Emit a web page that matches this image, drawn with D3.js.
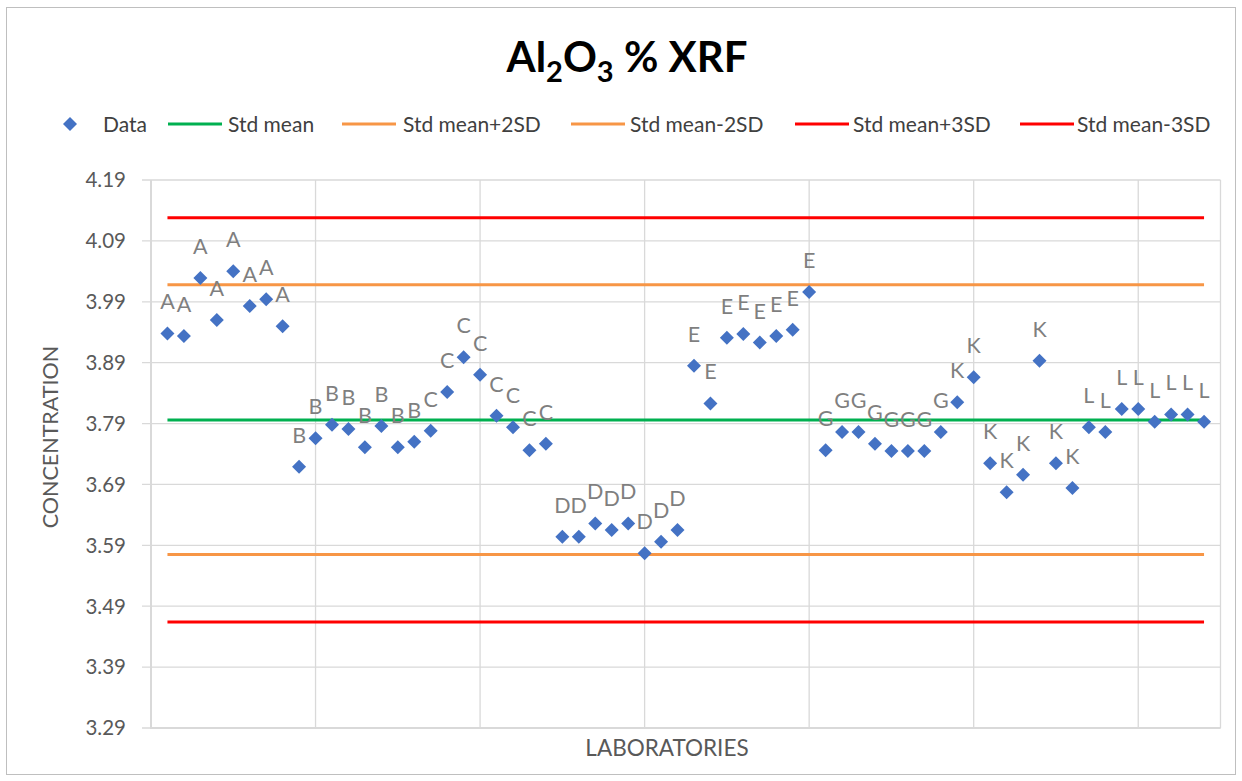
<!DOCTYPE html>
<html><head><meta charset="utf-8">
<script src="https://cdn.jsdelivr.net/npm/d3@7"></script>
<style>body{margin:0;background:#fff}svg{display:block}text{font-family:Lato,"Open Sans",sans-serif}</style>
</head><body><svg id="c" width="1242" height="781"></svg>
<script>
const labs = ["A","A","A","A","A","A","A","A","B","B","B","B","B","B","B","B","C","C","C","C","C","C","C","C","D","D","D","D","D","D","D","D","E","E","E","E","E","E","E","E","G","G","G","G","G","G","G","G","K","K","K","K","K","K","K","K","L","L","L","L","L","L","L","L"];
const values = [3.938,3.934,4.029,3.960,4.040,3.983,3.994,3.950,
 3.719,3.766,3.788,3.781,3.751,3.786,3.751,3.760,
 3.778,3.842,3.899,3.870,3.803,3.784,3.746,3.757,
 3.604,3.604,3.626,3.615,3.626,3.577,3.596,3.615,
 3.885,3.823,3.931,3.937,3.923,3.934,3.944,4.006,
 3.746,3.776,3.776,3.757,3.745,3.745,3.745,3.776,
 3.825,3.866,3.725,3.677,3.706,3.893,3.725,3.684,
 3.784,3.776,3.814,3.814,3.793,3.805,3.805,3.793];
const stdMean = 3.796, plus2SD = 4.018, minus2SD = 3.575, plus3SD = 4.128, minus3SD = 3.464;
const yTicks = [3.29,3.39,3.49,3.59,3.69,3.79,3.89,3.99,4.09,4.19];
const xGrid = [10,20,30,40,50,60,65];
const refLines = [
  {name:"Std mean", v:stdMean, color:"#00b050"},
  {name:"Std mean+2SD", v:plus2SD, color:"#f79646"},
  {name:"Std mean-2SD", v:minus2SD, color:"#f79646"},
  {name:"Std mean+3SD", v:plus3SD, color:"#ff0000"},
  {name:"Std mean-3SD", v:minus3SD, color:"#ff0000"}
];

const svg = d3.select("#c");
svg.append("rect").attr("x",6.5).attr("y",7.5).attr("width",1229).attr("height",767)
  .attr("fill","#fff").attr("stroke","#bfbfbf").attr("stroke-width",1);

const x = d3.scaleLinear().domain([0,65]).range([151,1220.5]);
const y = d3.scaleLinear().domain([3.29,4.19]).range([728,180]);

svg.append("g").selectAll("line").data(yTicks).join("line")
  .attr("x1",142).attr("x2",x(65)).attr("y1",d=>y(d)).attr("y2",d=>y(d))
  .attr("stroke","#d9d9d9").attr("stroke-width",1.3);
svg.append("g").selectAll("line").data(xGrid).join("line")
  .attr("x1",d=>x(d)).attr("x2",d=>x(d)).attr("y1",y(4.19)).attr("y2",y(3.29))
  .attr("stroke","#d9d9d9").attr("stroke-width",1.3);
svg.append("line").attr("x1",x(0)).attr("x2",x(0)).attr("y1",y(4.19)).attr("y2",y(3.29)+1)
  .attr("stroke","#d9d9d9").attr("stroke-width",2);
svg.append("line").attr("x1",x(0)).attr("x2",x(65)).attr("y1",y(3.29)).attr("y2",y(3.29))
  .attr("stroke","#d9d9d9").attr("stroke-width",2);

svg.append("g").selectAll("text").data(yTicks).join("text")
  .attr("x",126).attr("y",d=>y(d)).attr("dy","0.36em").attr("text-anchor","end")
  .attr("font-size",20.5).attr("fill","#595959").text(d=>d3.format(".2f")(d));

svg.append("g").selectAll("line").data(refLines).join("line")
  .attr("x1",x(1)).attr("x2",x(values.length)).attr("y1",d=>y(d.v)).attr("y2",d=>y(d.v))
  .attr("stroke",d=>d.color).attr("stroke-width",3);

const diamond = (cx,cy,r)=>`M${cx},${cy-r}L${cx+r},${cy}L${cx},${cy+r}L${cx-r},${cy}Z`;
svg.append("g").selectAll("path").data(values).join("path")
  .attr("d",(d,i)=>diamond(x(i+1),y(d),7)).attr("fill","#4472c4");
svg.append("g").selectAll("text").data(values).join("text")
  .attr("x",(d,i)=>x(i+1)).attr("y",d=>y(d)-24).attr("text-anchor","middle")
  .attr("font-size",21.5).attr("fill","#7f7f7f").text((d,i)=>labs[i]);

const t = svg.append("text").attr("x",627).attr("y",72).attr("text-anchor","middle")
  .attr("font-size",42).attr("font-weight","bold").attr("fill","#000");
t.append("tspan").text("Al");
t.append("tspan").attr("font-size",29).attr("dy",10).text("2");
t.append("tspan").attr("dy",-10).text("O");
t.append("tspan").attr("font-size",29).attr("dy",10).text("3");
t.append("tspan").attr("dy",-10).text(" % XRF");

const legY = 124;
const lg = svg.append("g");
lg.append("path").attr("d",diamond(70,legY,7)).attr("fill","#4472c4");
lg.append("text").attr("x",103).attr("y",legY).attr("dy","0.36em").attr("font-size",21).attr("fill","#404040").text("Data");
const legX = [[168,228],[342,403],[571,630],[795,853],[1020,1077]];
refLines.forEach((r,i)=>{
  lg.append("line").attr("x1",legX[i][0]).attr("x2",legX[i][0]+54).attr("y1",legY).attr("y2",legY)
    .attr("stroke",r.color).attr("stroke-width",3);
  lg.append("text").attr("x",legX[i][1]).attr("y",legY).attr("dy","0.36em").attr("font-size",21)
    .attr("fill","#404040").text(r.name);
});

svg.append("text").attr("transform","translate(50,437) rotate(-90)").attr("text-anchor","middle")
  .attr("dy","0.36em").attr("font-size",21.5).attr("fill","#595959").text("CONCENTRATION");
svg.append("text").attr("x",667).attr("y",748).attr("text-anchor","middle").attr("dy","0.36em")
  .attr("font-size",22.5).attr("fill","#595959").text("LABORATORIES");
</script></body></html>
